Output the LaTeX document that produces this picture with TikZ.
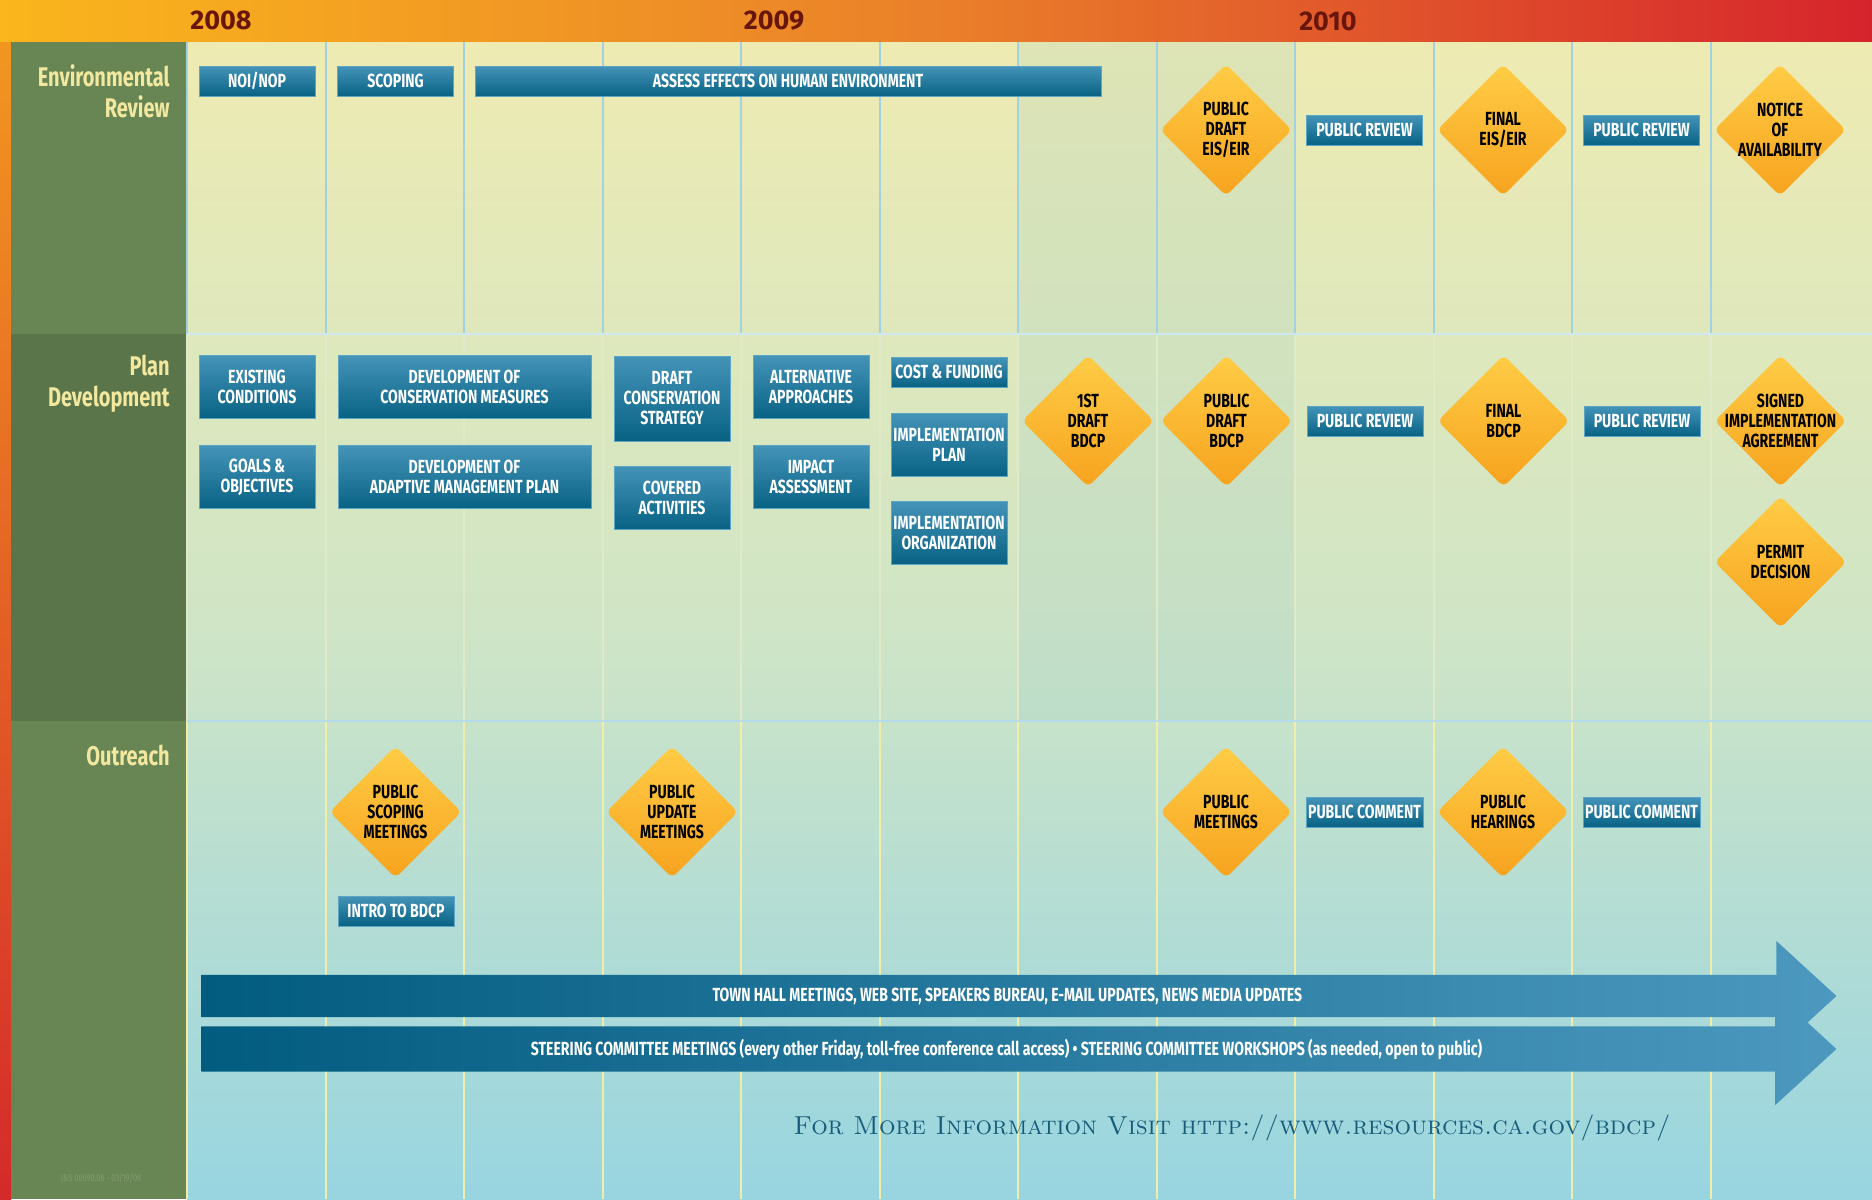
\documentclass[tikz,border=0pt]{standalone}
\usepackage{fontspec}
\newfontfamily\condfont[FakeStretch=0.74]{Fira Sans}
\newfontfamily\yearfont{Fira Sans}
\usetikzlibrary{shapes.geometric,shapes.arrows}

\definecolor{hdrYellow}{RGB}{250,182,28}
\definecolor{hdrOrange}{RGB}{234,128,42}
\definecolor{hdrRed}{RGB}{214,36,44}
\definecolor{stripTop}{RGB}{242,150,32}
\definecolor{stripBot}{RGB}{212,42,42}
\definecolor{laneLight}{RGB}{104,134,84}
\definecolor{laneDark}{RGB}{90,117,74}
\definecolor{laneText}{RGB}{242,232,160}
\definecolor{bgTop}{RGB}{238,235,178}
\definecolor{bgMid}{RGB}{208,229,198}
\definecolor{bgBot}{RGB}{152,213,225}
\definecolor{gridBlue}{RGB}{160,210,226}
\definecolor{gridPale}{RGB}{222,234,200}
\definecolor{gridYellow}{RGB}{240,238,168}
\definecolor{boxTop}{RGB}{68,148,184}
\definecolor{boxBot}{RGB}{8,98,132}
\definecolor{boxEdge}{RGB}{92,165,196}
\definecolor{msTop}{RGB}{255,204,70}
\definecolor{msBot}{RGB}{247,163,30}
\definecolor{arrowDark}{RGB}{2,92,128}
\definecolor{arrowLight}{RGB}{76,152,190}
\definecolor{yearText}{RGB}{105,22,10}
\definecolor{infoText}{RGB}{22,92,122}
\definecolor{noteText}{RGB}{130,155,112}
\definecolor{colTint}{RGB}{150,200,200}

\begin{document}
\begin{tikzpicture}[x=0.5pt, y=-0.5pt,
    base/.style = {font=\condfont\bfseries\fontsize{9.5}{10}\selectfont,
align=center, inner sep=1pt},
    task/.style = {base, rectangle, text=white, top color=boxTop,
bottom color=boxBot, draw=boxEdge, line width=0.4pt,
minimum width=58pt, minimum height=15pt},
    task2/.style = {task, minimum height=31.5pt},
    milestone/.style = {diamond, aspect=1, minimum width=66pt,
minimum height=66pt, inner sep=0pt, rounded corners=3pt,
top color=msTop, bottom color=msBot},
    mtext/.style = {base, text=black},
    banner/.style = {base, single arrow, text=white, left color=arrowDark,
right color=arrowLight, minimum width=55pt, single arrow head extend=16.75pt,
single arrow tip angle=85, minimum height=817.5pt, anchor=tail,
inner xsep=0pt, inner ysep=6pt},
    lane/.style = {font=\condfont\bfseries\fontsize{13.5}{15.5}\selectfont,
text=laneText, align=right, anchor=north east, inner sep=0pt},
    year/.style = {font=\yearfont\bfseries\fontsize{13.5}{15}\selectfont, text=yearText},
    node distance=69.25pt
]
  \useasboundingbox (0,0) rectangle (1872,1199);

  \shade[left color=hdrYellow, right color=hdrRed, middle color=hdrOrange] (0,0) rectangle (1872,42);
  \shade[top color=stripTop, bottom color=stripBot] (0,42) rectangle (11,1199);
  \fill[laneLight] (11,42) rectangle (187,334);
  \fill[laneDark] (11,334) rectangle (187,721);
  \fill[laneLight] (11,721) rectangle (187,1199);
  \shade[top color=bgTop, bottom color=bgBot, middle color=bgMid] (187,42) rectangle (1872,1199);
  \fill[colTint, opacity=0.18] (1018,42) rectangle (1295,721);

  \foreach \x in {187,325.5,...,1711}{
    \draw[gridBlue, line width=1pt] (\x,42) -- (\x,334);
    \draw[gridPale, line width=1pt] (\x,334) -- (\x,721);
    \draw[gridYellow, line width=1pt] (\x,721) -- (\x,1199);
  }
  \draw[gridBlue!50!white, line width=1pt] (187,334) -- (1872,334);
  \draw[gridBlue!80!white, line width=1pt] (187,721) -- (1872,721);

  \node (y2008) [year] at (221,20) {2008};
  \node (y2009) [year] at (774,21) {2009};
  \node (y2010) [year] at (1328,21) {2010};

  \node (envlane) [lane] at (170,64) {Environmental\\Review};
  \node (planlane) [lane] at (170,355) {Plan\\Development};
  \node (outlane) [lane] at (170,745) {Outreach};

  \node (noi) [task] at (257,81) {NOI/NOP};
  \node (scoping) [task, right of=noi] {SCOPING};
  \node (assess) [task, minimum width=313pt] at (788,81) {ASSESS EFFECTS ON HUMAN ENVIRONMENT};
  \node (pdeis) [milestone, label={[mtext]center:{PUBLIC\\DRAFT\\EIS/EIR}}] at (1226,130) {};
  \node (review1) [task, right of=pdeis] {PUBLIC REVIEW};
  \node (feis) [milestone, right of=review1, label={[mtext]center:{FINAL\\EIS/EIR}}] {};
  \node (review2) [task, right of=feis] {PUBLIC REVIEW};
  \node (notice) [milestone, right of=review2, label={[mtext]center:{NOTICE\\OF\\AVAILABILITY}}] {};

  \node (existing) [task2] at (257,387) {EXISTING\\CONDITIONS};
  \node (goals) [task2] at (257,477) {GOALS \&\\OBJECTIVES};
  \node (devcons) [task2, minimum width=126.5pt] at (464.5,387) {DEVELOPMENT OF\\CONSERVATION MEASURES};
  \node (devadapt) [task2, minimum width=126.5pt] at (464.5,477) {DEVELOPMENT OF\\ADAPTIVE MANAGEMENT PLAN};
  \node (draftcs) [task, minimum height=42.5pt] at (672,398.5) {DRAFT\\CONSERVATION\\STRATEGY};
  \node (covered) [task2] at (672,497.5) {COVERED\\ACTIVITIES};
  \node (altappr) [task2] at (811,387) {ALTERNATIVE\\APPROACHES};
  \node (impact) [task2] at (811,477) {IMPACT\\ASSESSMENT};
  \node (cost) [task] at (949,372) {COST \& FUNDING};
  \node (implplan) [task2] at (949,444.5) {IMPLEMENTATION\\PLAN};
  \node (implorg) [task2] at (949,532.5) {IMPLEMENTATION\\ORGANIZATION};
  \node (draft1) [milestone, label={[mtext]center:{1ST\\DRAFT\\BDCP}}] at (1088,421) {};
  \node (pdbdcp) [milestone, right of=draft1, label={[mtext]center:{PUBLIC\\DRAFT\\BDCP}}] {};
  \node (review3) [task, right of=pdbdcp] {PUBLIC REVIEW};
  \node (fbdcp) [milestone, right of=review3, label={[mtext]center:{FINAL\\BDCP}}] {};
  \node (review4) [task, right of=fbdcp] {PUBLIC REVIEW};
  \node (signed) [milestone, right of=review4, label={[mtext]center:{SIGNED\\IMPLEMENTATION\\AGREEMENT}}] {};
  \node (permit) [milestone, below of=signed, yshift=-1.25pt, label={[mtext]center:{PERMIT\\DECISION}}] {};

  \node (pscoping) [milestone, label={[mtext]center:{PUBLIC\\SCOPING\\MEETINGS}}] at (395.5,812) {};
  \node (intro) [task] at (396,911) {INTRO TO BDCP};
  \node (pupdate) [milestone, label={[mtext]center:{PUBLIC\\UPDATE\\MEETINGS}}] at (672,812) {};
  \node (pmeet) [milestone, label={[mtext]center:{PUBLIC\\MEETINGS}}] at (1226,812) {};
  \node (comment1) [task, right of=pmeet] {PUBLIC COMMENT};
  \node (phear) [milestone, right of=comment1, label={[mtext]center:{PUBLIC\\HEARINGS}}] {};
  \node (comment2) [task, right of=phear] {PUBLIC COMMENT};

  \node (townhall) [banner] at (201,996) {TOWN HALL MEETINGS, WEB SITE, SPEAKERS BUREAU, E-MAIL UPDATES, NEWS MEDIA UPDATES};
  \node (steering) [banner] at (201,1049) {STEERING COMMITTEE MEETINGS (every other Friday, toll-free conference call access) • STEERING COMMITTEE WORKSHOPS (as needed, open to public)};

  \node (moreinfo) [font=\fontsize{13}{15}\selectfont\scshape, text=infoText] at (1232,1128) {For More Information Visit http://www.resources.ca.gov/bdcp/};
  \node (jobno) [font=\condfont\fontsize{5}{6}\selectfont, text=noteText] at (101,1178) {J\&S 00090.08 - 03/19/08};

\end{tikzpicture}
\end{document}
